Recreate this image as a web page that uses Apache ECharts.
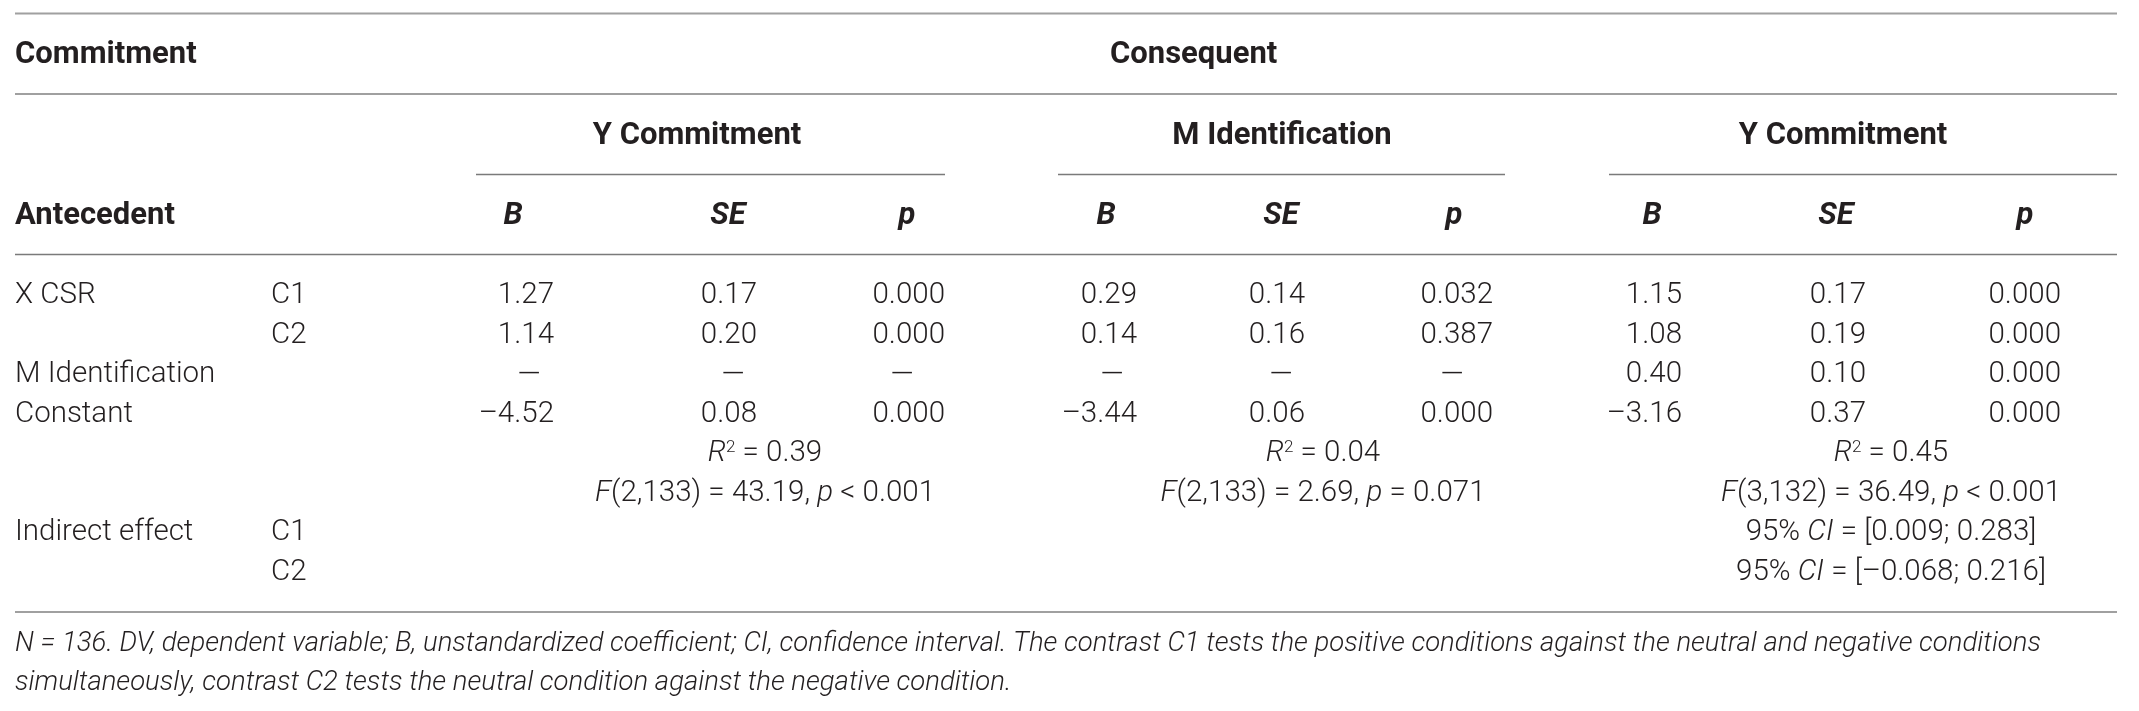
<!DOCTYPE html>
<html>
<head>
<meta charset="utf-8">
<script src="https://cdn.jsdelivr.net/npm/echarts@6/dist/echarts.min.js"></script>
<style>
  html, body { margin: 0; padding: 0; background: #fff; }
  #chart { width: 2139px; height: 711px; }
</style>
</head>
<body>
<div id="chart"></div>
<script>
// table content
var titleLeft = "Commitment";
var titleRight = "Consequent";
var groups = ["Y Commitment", "M Identification", "Y Commitment"];
var statHeads = ["B", "SE", "p"];
var rowLabels = ["X CSR", "", "M Identification", "Constant", "", "", "Indirect effect", ""];
var contrasts = ["C1", "C2", "", "", "", "", "C1", "C2"];

// coefficients per model, rows: C1, C2, M Identification, Constant (null = dash)
var y1B  = [1.27, 1.14, null, -4.52];
var y1SE = [0.17, 0.20, null, 0.08];
var y1P  = [0.000, 0.000, null, 0.000];
var mB   = [0.29, 0.14, null, -3.44];
var mSE  = [0.14, 0.16, null, 0.06];
var mP   = [0.032, 0.387, null, 0.000];
var y2B  = [1.15, 1.08, 0.40, -3.16];
var y2SE = [0.17, 0.19, 0.10, 0.37];
var y2P  = [0.000, 0.000, 0.000, 0.000];

var rSquared = [0.39, 0.04, 0.45];
var fDf = ["2,133", "2,133", "3,132"];
var fValue = [43.19, 2.69, 36.49];
var fSign = ["<", "=", "<"];
var fP = ["0.001", "0.071", "0.001"];
var ciLow = [0.009, -0.068];
var ciHigh = [0.283, 0.216];

var note1 = "{n|N = 136. DV, dependent variable; B, unstandardized coefficient; CI, confidence interval. The contrast C1 tests the positive conditions against the neutral and negative conditions}";
var note2 = "{n|simultaneously, contrast C2 tests the neutral condition against the negative condition.}";

// layout (pixels of the 2139 x 711 canvas)
var labelX = [15, 271];
var numRight = [554, 757, 945, 1137, 1305, 1493, 1682, 1866, 2061];
var headCenter = [513, 728, 907, 1106, 1281, 1454, 1652, 1836, 2025];
var dashCenter = [529, 733, 902, 1112, 1281, 1452, 1652, 1836, 2025];
var groupCenter = [697, 1282, 1843];
var groupRule = [[476, 945], [1058, 1505], [1609, 2117]];
var statCenter = [765, 1323, 1891];
var rowY = [296, 335.5, 375, 414.5, 454, 494, 533, 573];

var fam = "Roboto, 'Liberation Sans', Arial, sans-serif";
var ink = "#231f20";

function fmt(v, d) {
  if (v === null) return "—";
  return v.toFixed(d).replace("-", "–");
}

var cells = [];
function cell(x, y, text, align) {
  cells.push({ x: x, y: y, text: text, align: align });
}

cell(labelX[0], 55, "{b|" + titleLeft + "}", "left");
cell(1110, 55, "{b|" + titleRight + "}", "left");
groups.forEach(function (g, i) { cell(groupCenter[i], 136, "{b|" + g + "}", "center"); });
cell(labelX[0], 216, "{b|Antecedent}", "left");
for (var k = 0; k < 9; k++) {
  cell(headCenter[k], 216, "{bi|" + statHeads[k % 3] + "}", "center");
}

rowLabels.forEach(function (t, i) { if (t) cell(labelX[0], rowY[i], t, "left"); });
contrasts.forEach(function (t, i) { if (t) cell(labelX[1], rowY[i], t, "left"); });

var models = [[y1B, y1SE, y1P], [mB, mSE, mP], [y2B, y2SE, y2P]];
var coefRows = [0, 1, 2, 3];
models.forEach(function (m, mi) {
  m.forEach(function (col, ci) {
    var k = mi * 3 + ci;
    col.forEach(function (v, r) {
      var y = rowY[coefRows[r]];
      if (v === null) cell(dashCenter[k], y, "{d|—}", "center");
      else cell(numRight[k], y, fmt(v, ci === 2 ? 3 : 2), "right");
    });
  });
  cell(statCenter[mi], rowY[4], "{i|R}{sup|2} = " + rSquared[mi].toFixed(2), "center");
  cell(statCenter[mi], rowY[5], "{i|F}(" + fDf[mi] + ") = " + fValue[mi].toFixed(2) + ", {i|p} " + fSign[mi] + " " + fP[mi], "center");
});
ciLow.forEach(function (lo, i) {
  cell(statCenter[2], rowY[6 + i], "95% {i|CI} = [" + fmt(lo, 3) + "; " + fmt(ciHigh[i], 3) + "]", "center");
});
cell(labelX[0], 644, note1, "left");
cell(labelX[0], 683, note2, "left");

var rules = [
  { x1: 15, x2: 2117, y: 13.5, c: "#a0a0a0", w: 2 },
  { x1: 15, x2: 2117, y: 94, c: "#a0a0a0", w: 2 },
  { x1: 15, x2: 2117, y: 254.5, c: "#7a7a7a", w: 1.5 },
  { x1: 15, x2: 2117, y: 612, c: "#a0a0a0", w: 2 }
];
groupRule.forEach(function (g) { rules.push({ x1: g[0], x2: g[1], y: 174.5, c: "#7a7a7a", w: 1.5 }); });

var fs = 29.5;
var baseStyle = { fontFamily: fam, fontSize: fs, fontWeight: 300, fill: ink };
var rich = {
  b: { fontFamily: fam, fontSize: 31, fontWeight: 700, fill: ink },
  bi: { fontFamily: fam, fontSize: 31, fontWeight: 700, fontStyle: "italic", fill: ink },
  i: { fontFamily: fam, fontSize: fs, fontWeight: 300, fontStyle: "italic", fill: ink },
  n: { fontFamily: fam, fontSize: 27.5, fontWeight: 300, fontStyle: "italic", fill: ink },
  d: { fontFamily: fam, fontSize: 30, fontWeight: 300, fill: ink },
  sup: { fontFamily: fam, fontSize: 17, fontWeight: 300, fill: ink, verticalAlign: "top" }
};

var myChart = echarts.init(document.getElementById("chart"));
var option = {
  animation: false,
  backgroundColor: "#fff",
  grid: { left: 0, right: 0, top: 0, bottom: 0 },
  xAxis: { type: "value", min: 0, max: 2139, show: false },
  yAxis: { type: "value", min: 0, max: 711, inverse: true, show: false },
  series: [
    {
      type: "custom",
      clip: false,
      silent: true,
      encode: { x: [0, 2], y: 1 },
      data: rules.map(function (r) { return [r.x1, r.y, r.x2]; }),
      renderItem: function (params, api) {
        var r = rules[params.dataIndex];
        var a = api.coord([api.value(0), api.value(1)]);
        var b = api.coord([api.value(2), api.value(1)]);
        return {
          type: "line",
          shape: { x1: a[0], y1: a[1], x2: b[0], y2: b[1] },
          style: { stroke: r.c, lineWidth: r.w }
        };
      }
    },
    {
      type: "custom",
      clip: false,
      silent: true,
      encode: { x: 0, y: 1 },
      data: cells.map(function (c) { return [c.x, c.y]; }),
      renderItem: function (params, api) {
        var c = cells[params.dataIndex];
        var p = api.coord([api.value(0), api.value(1)]);
        return {
          type: "text",
          x: p[0],
          y: p[1],
          style: Object.assign({}, baseStyle, {
            text: c.text,
            align: c.align,
            verticalAlign: "middle",
            rich: rich
          })
        };
      }
    }
  ]
};
myChart.setOption(option);
</script>
</body>
</html>
